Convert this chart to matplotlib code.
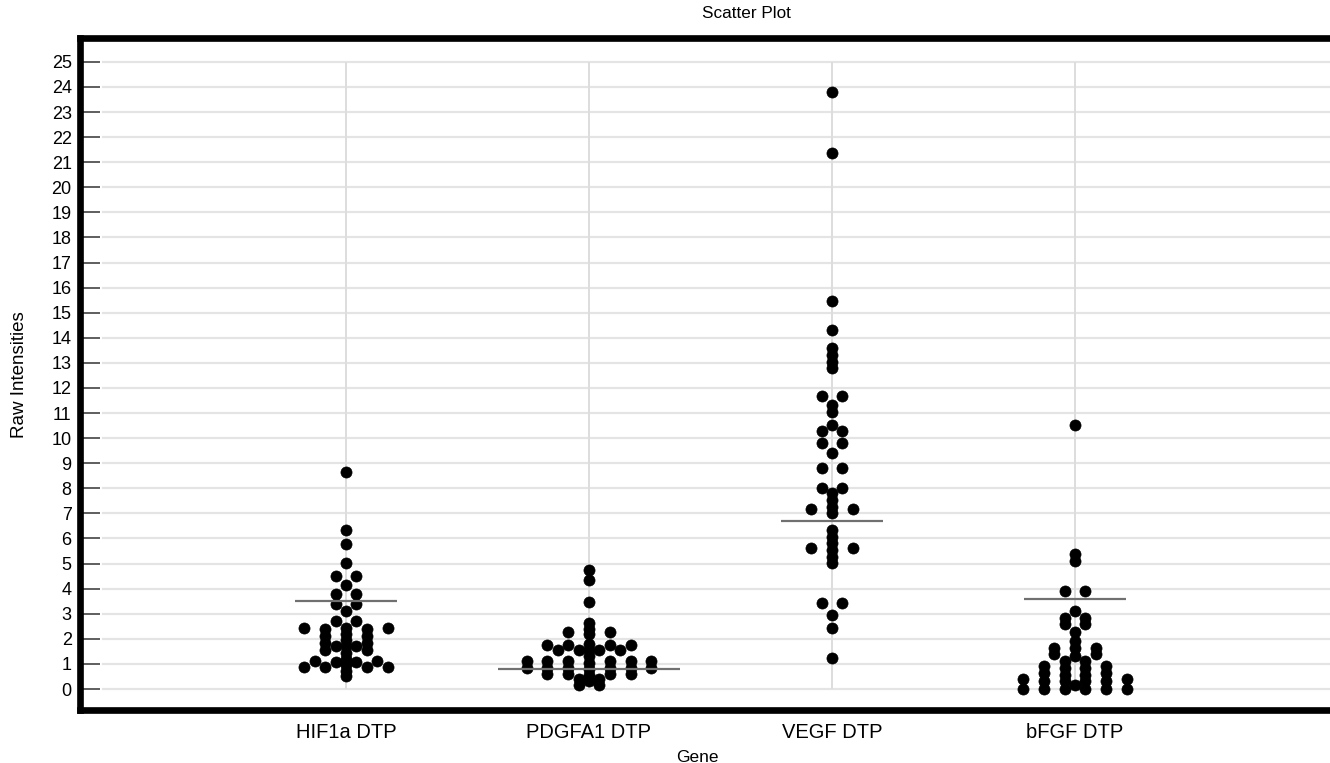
import numpy as np
import matplotlib
matplotlib.use('Agg')
import matplotlib.pyplot as plt

plt.rcParams['font.family'] = ['Liberation Sans', 'DejaVu Sans']

# Genes on the x axis
genes = ['HIF1a DTP', 'PDGFA1 DTP', 'VEGF DTP', 'bFGF DTP']

# Raw intensities.
# key 0 = centre column, key k = a pair of dots drawn at columns -k and +k
hif1a = {
    0: [8.66, 6.34, 5.78, 5.02, 4.13, 3.10, 2.45, 2.20, 1.95, 1.70, 1.45, 1.20, 0.95, 0.70, 0.50],
    1: [4.52, 3.80, 3.38, 2.70, 1.70, 1.09],
    2: [2.38, 2.10, 1.82, 1.55, 0.86],
    3: [1.11],
    4: [2.42, 0.86],
}
pdgfa1 = {
    0: [4.74, 4.34, 3.45, 2.64, 2.40, 2.20, 1.80, 1.55, 1.30, 1.05, 0.80, 0.55, 0.30],
    1: [1.55, 0.38, 0.15],
    2: [2.26, 1.75, 1.10, 0.85, 0.60],
    3: [1.55],
    4: [1.75, 1.10, 0.85, 0.60],
    6: [1.10, 0.85],
}
vegf = {
    0: [23.81, 21.35, 15.48, 14.31, 13.58, 13.31, 13.05, 12.80, 11.32, 11.05, 10.52, 9.39,
        7.80, 7.53, 7.27, 7.00, 6.34, 6.07, 5.81, 5.54, 5.27, 5.01, 2.95, 2.42, 1.22],
    1: [11.68, 10.28, 9.82, 8.80, 8.00, 3.42],
    2: [7.17, 5.61],
}
bfgf = {
    0: [10.52, 5.38, 5.10, 3.10, 2.28, 1.92, 1.62, 1.32, 0.16],
    1: [3.92, 2.85, 2.58, 1.10, 0.84, 0.57, 0.30, 0.02],
    2: [1.62, 1.40],
    3: [0.90, 0.62, 0.32, 0.02],
    5: [0.40, 0.00],
}
groups = [hif1a, pdgfa1, vegf, bfgf]

# horizontal summary line per gene and its half length (in x units)
summary = [3.50, 0.78, 6.68, 3.60]
summary_half = [0.21, 0.375, 0.21, 0.21]

yticks = list(range(0, 26))

W, H = 1330, 763
fig = plt.figure(figsize=(W / 100, H / 100), dpi=100)
ax = fig.add_axes([80 / W, (H - 710) / H, 1260 / W, 672 / H])

xpos = np.arange(1, len(genes) + 1)
col_step = 10.4 / 243  # one dot column in x units

ax.set_xlim(1 - 266 / 243, 4 + 265 / 243)
ax.set_ylim(-0.837, 25.95)

# grid: light horizontal lines starting after the inward ticks, vertical line per gene
for y in yticks:
    ax.axhline(y, xmin=23 / 1260, xmax=1, color='#e4e4e4', lw=1.6, zorder=0)
ax.vlines(xpos, yticks[0], yticks[-1], color='#dddddd', lw=1.4, zorder=0)

for x, grp in zip(xpos, groups):
    for k, vals in grp.items():
        offs = [0] if k == 0 else [-k, k]
        for o in offs:
            ax.plot(np.full(len(vals), x + o * col_step), vals, 'o', color='black',
                    ms=8, mec='black', mew=0.5, zorder=3)

for x, m, hw in zip(xpos, summary, summary_half):
    ax.hlines(m, x - hw, x + hw, color='#707070', lw=1.6, zorder=4)

ax.set_yticks(yticks)
ax.set_yticklabels([str(t) for t in yticks])
ax.set_xticks(xpos)
ax.set_xticklabels(genes)

ax.tick_params(axis='y', direction='in', length=14.5, width=1.1, color='#333333',
               labelsize=13, pad=6)
ax.tick_params(axis='x', length=0, labelsize=14.5, pad=9)

for s in ['left', 'top', 'bottom']:
    ax.spines[s].set_linewidth(4.8)
    ax.spines[s].set_color('black')
ax.spines['right'].set_visible(False)

fig.text(746 / W, 1 - 14 / H, 'Scatter Plot', ha='center', va='center', fontsize=12.3)
fig.text(697 / W, 1 - 757 / H, 'Gene', ha='center', va='center', fontsize=12.5)
fig.text(20 / W, 1 - 375 / H, 'Raw Intensities', ha='center', va='center',
         rotation=90, fontsize=13.5)

fig.savefig('out.png', dpi=100)
